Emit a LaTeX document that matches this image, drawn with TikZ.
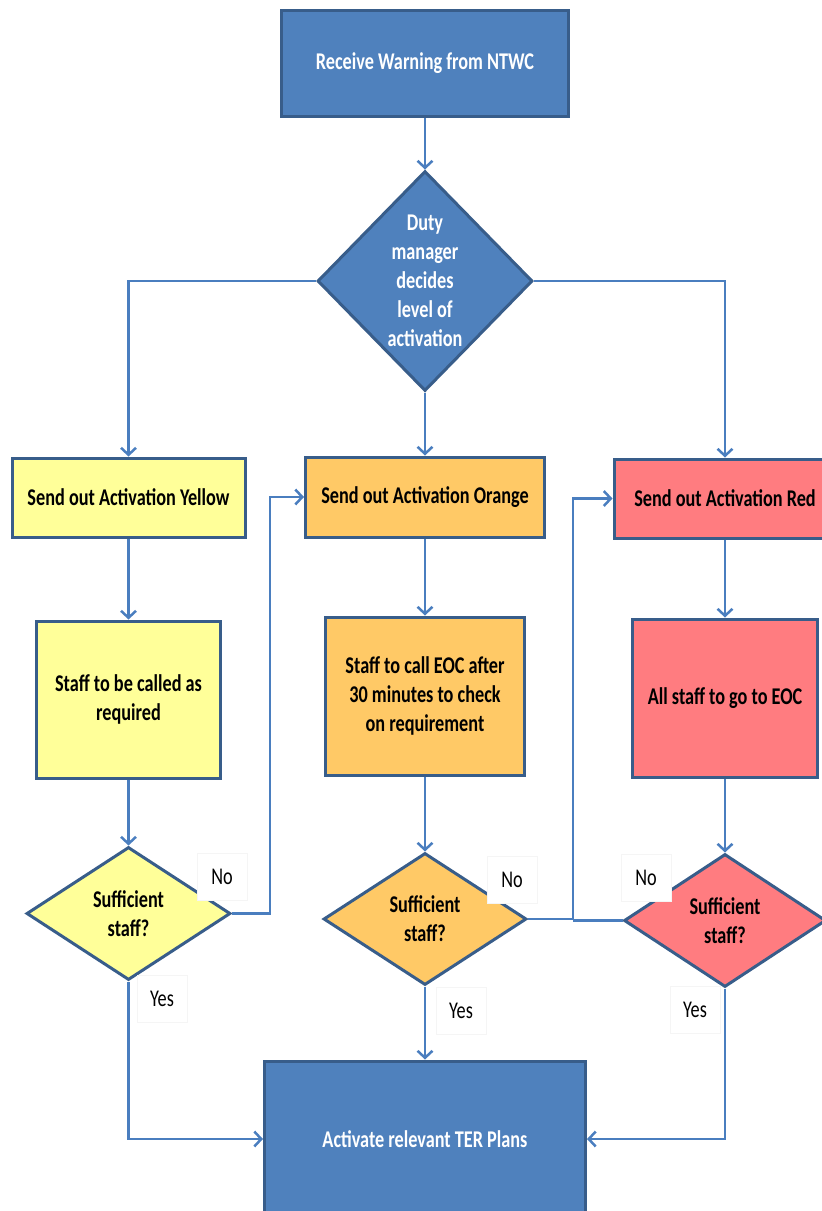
\documentclass[tikz,border=0pt]{standalone}
\usepackage{fontspec}
\setmainfont{Carlito}[FakeStretch=0.76]
\usetikzlibrary{positioning,arrows.meta,shapes.geometric}
\definecolor{ntwcblue}{HTML}{4F81BD}
\definecolor{edgeblue}{HTML}{385D8A}
\definecolor{linkblue}{HTML}{4A7EBF}
\definecolor{actyellow}{HTML}{FFFF99}
\definecolor{actorange}{HTML}{FFC966}
\definecolor{actred}{HTML}{FF7C80}
\tikzstyle{bbox}=[rectangle, draw=edgeblue, line width=3pt, fill=ntwcblue, text=white, align=center, inner sep=0pt, font=\bfseries\fontsize{24}{29}\selectfont]
\tikzstyle{cbox}=[rectangle, draw=edgeblue, line width=3pt, text=black, align=center, inner sep=0pt, font=\bfseries\fontsize{24}{29}\selectfont]
\tikzstyle{dbox}=[diamond, draw=edgeblue, line width=3pt, text=black, align=center, inner sep=0pt, font=\bfseries\fontsize{24}{29}\selectfont]
\tikzstyle{lbl}=[rectangle, draw=black!4, line width=0.8pt, fill=white, minimum width=50pt, minimum height=47pt, inner sep=0pt, font=\fontsize{24}{29}\selectfont]
\tikzstyle{pline}=[-, line width=2.5pt, draw=linkblue]
\tikzstyle{parrow}=[pline, -{Straight Barb[length=7pt,width=15pt,line width=2.5pt]}]

\begin{document}
\begin{tikzpicture}[x=1pt, y=-1pt, node distance=0pt]
\useasboundingbox (0,0) rectangle (822,1211);
\clip (0,0) rectangle (822,1211);
\node (NTWC) [bbox, minimum width=287pt, minimum height=106pt] at (425,63) {Receive Warning from NTWC};
\node (DUTY) [dbox, fill=ntwcblue, text=white, minimum width=215pt, minimum height=220pt,
below=52pt of NTWC] {Duty\\manager\\decides\\level of\\activation};
\node (YELACT) [cbox, fill=actyellow, minimum width=233pt, minimum height=79pt] at (128.5,497.5) {Send out Activation Yellow};
\node (ORAACT) [cbox, fill=actorange, minimum width=239pt, minimum height=80pt] at (425,497) {Send out Activation Orange};
\node (REDACT) [cbox, fill=actred, minimum width=222pt, minimum height=79pt] at (725,498.5) {Send out Activation Red};
\node (YELSTAFF) [cbox, fill=actyellow, minimum width=184pt, minimum height=157pt,
below=81pt of YELACT] {Staff to be called as\\required};
\node (ORASTAFF) [cbox, fill=actorange, minimum width=199pt, minimum height=158pt,
below=77pt of ORAACT] {Staff to call EOC after\\30 minutes to check\\on requirement};
\node (REDSTAFF) [cbox, fill=actred, minimum width=185pt, minimum height=158pt,
below=78pt of REDACT] {All staff to go to EOC};
\node (YELDEC) [dbox, fill=actyellow, minimum width=204pt, minimum height=133pt,
below=66pt of YELSTAFF] {Sufficient\\staff?};
\node (ORADEC) [dbox, fill=actorange, minimum width=203pt, minimum height=132pt,
below=75pt of ORASTAFF] {Sufficient\\staff?};
\node (REDDEC) [dbox, fill=actred, minimum width=202pt, minimum height=133pt,
below=74pt of REDSTAFF] {Sufficient\\staff?};
\node (TER) [bbox, minimum width=321pt, minimum height=156pt] at (425,1139) {Activate relevant TER Plans};
\node (NOYEL) [lbl] at (222,877) {No};
\node (YESYEL) [lbl] at (162,999) {Yes};
\node (NOORA) [lbl] at (512,880) {No};
\node (YESORA) [lbl] at (461,1011) {Yes};
\node (NORED) [lbl] at (646,878) {No};
\node (YESRED) [lbl] at (695,1010) {Yes};
 \draw[parrow]  (NTWC.south) -- (DUTY.north);
 \draw[parrow]  (DUTY.west) -| (YELACT.north);
 \draw[parrow]  (DUTY.south) -- (ORAACT.north);
 \draw[parrow]  (DUTY.east) -| (REDACT.north);
 \draw[parrow]  (YELACT.south) -- (YELSTAFF.north);
 \draw[parrow]  (ORAACT.south) -- (ORASTAFF.north);
 \draw[parrow]  (REDACT.south) -- (REDSTAFF.north);
 \draw[parrow]  (YELSTAFF.south) -- (YELDEC.north);
 \draw[parrow]  (ORASTAFF.south) -- (ORADEC.north);
 \draw[parrow]  (REDSTAFF.south) -- (REDDEC.north);
 \draw[parrow]  (YELDEC.east) -- ++(38,0) |- (ORAACT.west);
 \draw[parrow]  (ORADEC.east) -- ++(45,0) coordinate (NOJOIN) |- (REDACT.west);
 \draw[pline]   (REDDEC.west) -- (REDDEC.west -| NOJOIN);
 \draw[parrow]  (YELDEC.south) |- (TER.west);
 \draw[parrow]  (ORADEC.south) -- (TER.north);
 \draw[parrow]  (REDDEC.south) |- (TER.east);
\end{tikzpicture}
\end{document}
